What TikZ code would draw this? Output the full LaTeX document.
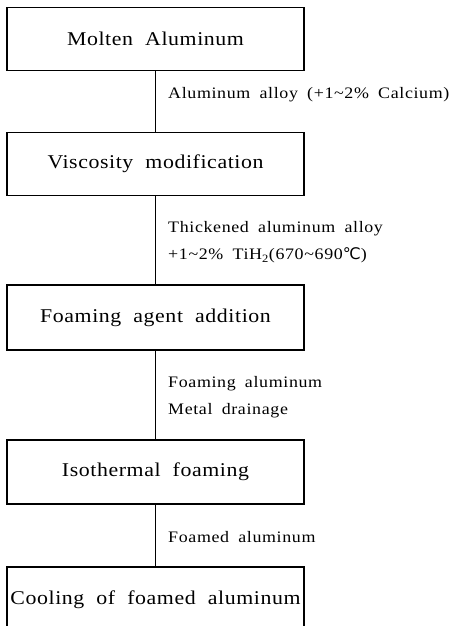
\documentclass[tikz,border=0pt]{standalone}
\usepackage{fontspec}
\setmainfont{Liberation Serif}
\newfontfamily\boxfont{Liberation Serif}[FakeStretch=1.12,LetterSpace=3,WordSpace=2]
\newfontfamily\notefont{Liberation Serif}[FakeStretch=1.12,LetterSpace=4,WordSpace=1.8]
\newfontfamily\symfont{DejaVu Sans}

\tikzset{
  stepbox/.style={draw, line width=1.3pt, minimum width=297pt, minimum height=63pt,
    inner sep=0pt, font=\boxfont\fontsize{19.5}{22}\selectfont},
  note/.style={anchor=west, inner sep=0pt, align=left,
    font=\notefont\fontsize{16}{27}\selectfont},
  link/.style={line width=1.1pt}
}

\begin{document}
\begin{tikzpicture}[x=1pt,y=-1pt]
  \useasboundingbox (0,0) rectangle (460,626);
  % Process steps
  \node[stepbox] (molten) at (155.5,39) {Molten Aluminum};
  \node[stepbox] (visc) at (155.5,164) {Viscosity modification};
  \node[stepbox, minimum height=65pt] (agent) at (155.5,317.5) {Foaming agent addition};
  \node[stepbox, minimum height=64pt] (iso) at (155.5,472) {Isothermal foaming};
  \node[stepbox, minimum height=66pt] (cool) at (155.5,600) {Cooling of foamed aluminum};

  % Links
  \draw[link] (molten) -- (visc);
  \draw[link] (visc) -- (agent);
  \draw[link] (agent) -- (iso);
  \draw[link] (iso) -- (cool);

  % Notes
  \node[note] (n1) at (168,95) {Aluminum alloy (+1\textasciitilde2\% Calcium)};
  \node[note] (n2) at (168,242.5) {Thickened aluminum alloy\\+1\textasciitilde2\% TiH\textsubscript{2}(670\textasciitilde690{\symfont ℃})};
  \node[note] (n3) at (168,397.5) {Foaming aluminum\\Metal drainage};
  \node[note] (n4) at (168,537) {Foamed aluminum};
\end{tikzpicture}
\end{document}
